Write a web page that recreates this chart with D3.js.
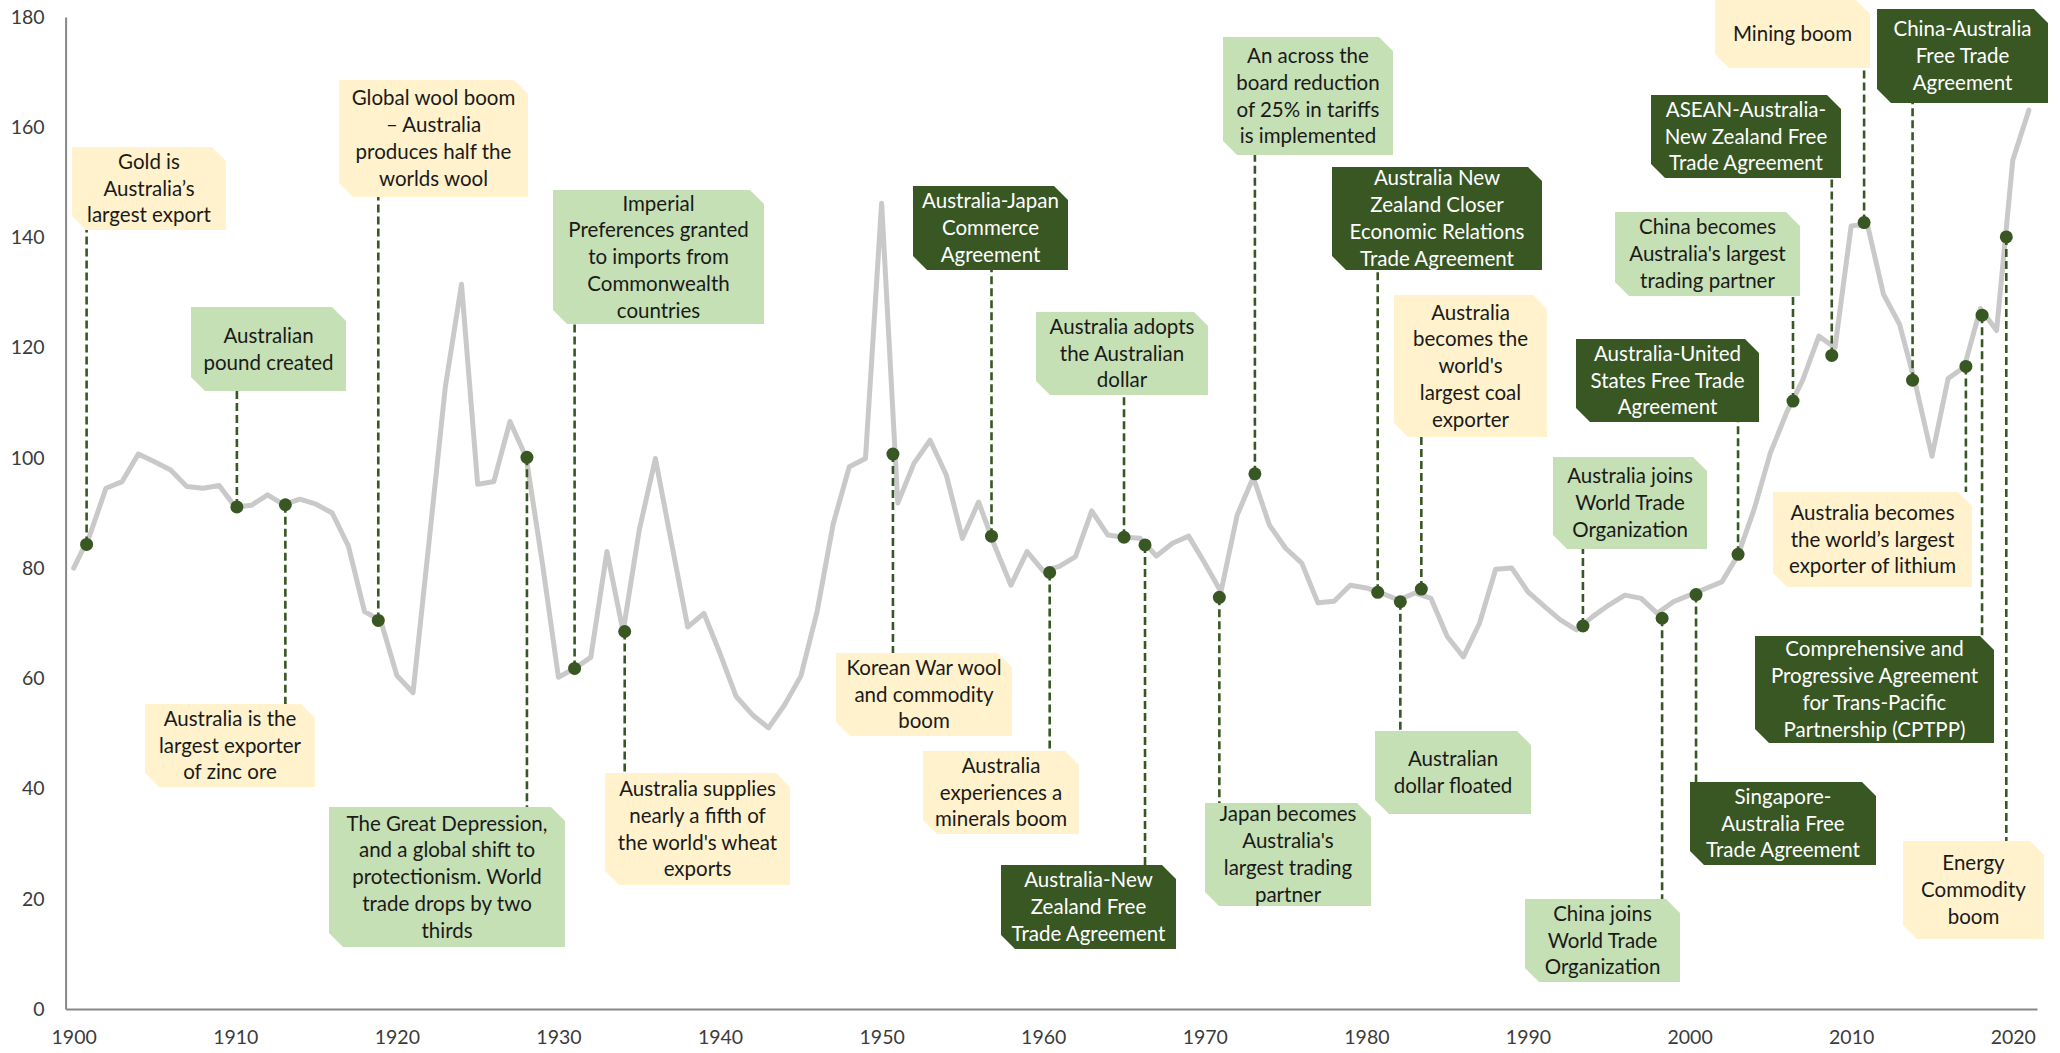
<!DOCTYPE html>
<html>
<head>
<meta charset="utf-8">
<script src="https://cdn.jsdelivr.net/npm/d3@7"></script>
<style>
  body { margin: 0; background: #fff; }
  svg { display: block; font-family: Lato, "Open Sans", sans-serif; }
</style>
</head>
<body>
<svg id="chart"></svg>
<script>
// Yearly index, 1900 - 2021
const years = d3.range(1900, 2022);
const indexValues = [
  80, 86, 94.5, 95.7, 100.7, 99.3, 97.8, 94.8, 94.5, 95.0,
  91.1, 91.4, 93.3, 91.5, 92.5, 91.6, 90.0, 84.0, 72.1, 70.5,
  60.5, 57.4, 85, 112.9, 131.5, 95.2, 95.7, 106.6, 100.1, 81,
  60.2, 61.8, 63.8, 83.0, 68.5, 86.9, 99.9, 84.5, 69.3, 71.8,
  64.5, 56.7, 53.4, 51.0, 55.2, 60.4, 72, 88, 98.4, 99.9,
  146.2, 91.8, 99.0, 103.2, 96.9, 85.4, 92.0, 84, 76.9, 83.0,
  79.5, 80.3, 82.1, 90.4, 86.0, 85.6, 85.4, 82.2, 84.5, 85.8,
  80.9, 75.7, 89.6, 96.5, 87.8, 83.6, 80.9, 73.7, 74.0, 76.9,
  76.4, 75.4, 74.2, 75.5, 74.5, 67.6, 63.9, 70, 79.8, 80.0,
  75.7, 73.1, 70.6, 68.8, 71.2, 73.3, 75.1, 74.5, 71.8, 73.9,
  75.1, 76.3, 77.5, 82.4, 90.7, 100.9, 108.2, 114.1, 122.1, 120.0,
  142.1, 142.4, 129.7, 124.2, 113.1, 100.3, 114.4, 116.5, 127.1, 123.1,
  154.0, 163.1
];

const yTicks = [0, 20, 40, 60, 80, 100, 120, 140, 160, 180];
const xTicks = [1900, 1910, 1920, 1930, 1940, 1950, 1960, 1970, 1980, 1990, 2000, 2010, 2020];

// Events: where the marker sits on the line, the note text and its kind
const eventYears = [1900.8, 1910.1, 1913.1, 1918.85, 1928.05, 1931.0, 1934.1, 1950.7,
  1956.8, 1965.0, 1960.4, 1966.3, 1973.1, 1970.9, 1980.7, 1983.4, 1982.1, 1993.4,
  1998.3, 2000.4, 2003.0, 2006.4, 2008.8, 2010.8, 2013.8, 2017.1, 2018.1, 2019.6];
const eventValues = [84.3, 91.1, 91.5, 70.5, 100.1, 61.8, 68.5, 100.7,
  85.8, 85.6, 79.2, 84.2, 97.1, 74.7, 75.6, 76.2, 73.9, 69.5,
  70.9, 75.2, 82.5, 110.3, 118.6, 142.7, 114.1, 116.6, 125.9, 140.1];
const eventLabels = [
  "Gold is|Australia’s|largest export",
  "Australian|pound created",
  "Australia is the|largest exporter|of zinc ore",
  "Global wool boom|– Australia|produces half the|worlds wool",
  "The Great Depression,|and a global shift to|protectionism. World|trade drops by two|thirds",
  "Imperial|Preferences granted|to imports from|Commonwealth|countries",
  "Australia supplies|nearly a fifth of|the world's wheat|exports",
  "Korean War wool|and commodity|boom",
  "Australia-Japan|Commerce|Agreement",
  "Australia adopts|the Australian|dollar",
  "Australia|experiences a|minerals boom",
  "Australia-New|Zealand Free|Trade Agreement",
  "An across the|board reduction|of 25% in tariffs|is implemented",
  "Japan becomes|Australia's|largest trading|partner",
  "Australia New|Zealand Closer|Economic Relations|Trade Agreement",
  "Australia|becomes the|world's|largest coal|exporter",
  "Australian|dollar floated",
  "Australia joins|World Trade|Organization",
  "China joins|World Trade|Organization",
  "Singapore-|Australia Free|Trade Agreement",
  "Australia-United|States Free Trade|Agreement",
  "China becomes|Australia's largest|trading partner",
  "ASEAN-Australia-|New Zealand Free|Trade Agreement",
  "Mining boom",
  "China-Australia|Free Trade|Agreement",
  "Australia becomes|the world’s largest|exporter of lithium",
  "Comprehensive and|Progressive Agreement|for Trans-Pacific|Partnership (CPTPP)",
  "Energy|Commodity|boom"
];
const eventKinds = ["event", "policy", "event", "event", "policy", "policy", "event", "event",
  "agreement", "policy", "event", "agreement", "policy", "policy", "agreement", "event", "policy", "policy",
  "policy", "agreement", "agreement", "policy", "agreement", "event", "agreement", "event", "agreement", "event"];

// Note box placement in pixels: [left, top, width, height]
const noteBoxes = [
  [72, 147, 154, 83], [191, 307, 155, 84], [145, 704, 170, 83], [339, 80, 189, 117],
  [329, 807, 236, 140], [553, 190, 211, 134], [605, 773, 185, 112], [836, 653, 176, 83],
  [913, 186, 155, 84], [1036, 312, 172, 83], [923, 751, 156, 83], [1001, 865, 175, 84],
  [1223, 37, 170, 118], [1205, 803, 166, 103], [1332, 167, 210, 103], [1394, 295, 153, 142],
  [1375, 731, 156, 83], [1553, 457, 154, 92], [1525, 899, 155, 83], [1690, 782, 186, 83],
  [1576, 339, 183, 83], [1615, 212, 185, 84], [1651, 95, 190, 83], [1715, 0, 155, 68],
  [1877, 9, 171, 94], [1773, 492, 199, 95], [1755, 636, 239, 107], [1903, 841, 141, 98]
];

const fills = { event: "#FFF2CC", policy: "#C5E0B4", agreement: "#385723" };
const inks = { event: "#1a1a1a", policy: "#1a1a1a", agreement: "#ffffff" };
const darkGreen = "#385723";

const W = 2060, H = 1053;
const margin = { top: 17, right: 23, bottom: 44, left: 65.6 };

const svg = d3.select("#chart").attr("width", W).attr("height", H);

const x = d3.scaleLinear()
  .domain([1899.5, 2021.5])
  .range([margin.left, W - margin.right]);
const y = d3.scaleLinear()
  .domain([0, 180])
  .range([H - margin.bottom, margin.top]);

// axes
const xAxis = svg.append("g")
  .attr("transform", `translate(0,${y(0)})`)
  .call(d3.axisBottom(x).tickValues(xTicks).tickFormat(d3.format("d")).tickSize(0).tickSizeOuter(0).tickPadding(21));
const yAxis = svg.append("g")
  .attr("transform", `translate(${margin.left},0)`)
  .call(d3.axisLeft(y).tickValues(yTicks).tickSize(0).tickSizeOuter(0).tickPadding(21));

[xAxis, yAxis].forEach(g => {
  g.select(".domain").attr("stroke", "#878787").attr("stroke-width", 2);
  g.selectAll("text").attr("fill", "#3b3b3b").style("font-size", "19.5px").attr("font-family", "Lato");
});

// the index line
const line = d3.line()
  .x((d, i) => x(years[i]))
  .y(d => y(d));

svg.append("path")
  .datum(indexValues)
  .attr("fill", "none")
  .attr("stroke", "#C9C9C9")
  .attr("stroke-width", 5)
  .attr("stroke-linejoin", "round")
  .attr("stroke-linecap", "round")
  .attr("d", line);

// leaders
eventYears.forEach((yr, i) => {
  const [left, top, w, h] = noteBoxes[i];
  const dotY = y(eventValues[i]);
  const endY = top > dotY ? top : top + h;
  svg.append("line")
    .attr("x1", x(yr)).attr("x2", x(yr))
    .attr("y1", dotY).attr("y2", endY)
    .attr("stroke", darkGreen)
    .attr("stroke-width", 2.6)
    .attr("stroke-dasharray", "8,4");
});

// markers
svg.selectAll(".marker")
  .data(eventYears)
  .enter().append("circle")
  .attr("class", "marker")
  .attr("cx", d => x(d))
  .attr("cy", (d, i) => y(eventValues[i]))
  .attr("r", 6.5)
  .attr("fill", darkGreen);

// note boxes
const cut = 14;
eventLabels.forEach((label, i) => {
  const [l, t, w, h] = noteBoxes[i];
  const r = l + w, b = t + h;
  const kind = eventKinds[i];
  const g = svg.append("g");
  g.append("path")
    .attr("d", `M${l},${t}L${r - cut},${t}L${r},${t + cut}L${r},${b}L${l + cut},${b}L${l},${b - cut}Z`)
    .attr("fill", fills[kind]);
  const lines = label.split("|");
  const cy = t + h / 2;
  lines.forEach((txt, j) => {
    g.append("text")
      .attr("x", l + w / 2)
      .attr("y", cy + (j - (lines.length - 1) / 2) * 26.8)
      .attr("dy", "0.35em")
      .attr("text-anchor", "middle")
      .attr("fill", inks[kind])
      .style("font-size", "20.5px")
      .text(txt);
  });
});
</script>
</body>
</html>
